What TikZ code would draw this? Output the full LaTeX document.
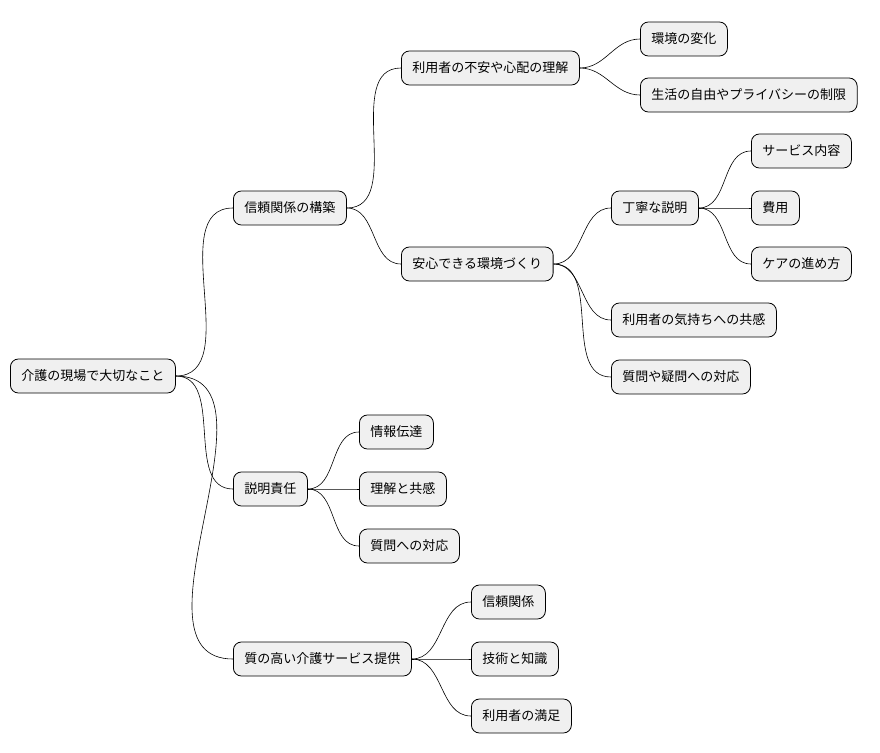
\documentclass[tikz,border=0pt]{standalone}
\usepackage{fontspec}
\setmainfont{Noto Sans CJK JP}
\begin{document}
\begin{tikzpicture}[x=1pt,y=-1pt,
  n/.style={draw=black,fill=black!6,rounded corners=8pt,minimum height=34pt,inner xsep=11pt,anchor=west,font=\fontsize{13}{15}\selectfont,line width=0.8pt},
  e/.style={draw=black,line width=0.6pt}]
\useasboundingbox (0,0) rectangle (880,752);
\node[n] (r) at (10,376) {介護の現場で大切なこと};
\node[n] (a) at (233,208) {信頼関係の構築};
\node[n] (b) at (233,489) {説明責任};
\node[n] (c) at (233,659) {質の高い介護サービス提供};
\node[n] (a1) at (401,68) {利用者の不安や心配の理解};
\node[n] (a2) at (401,264) {安心できる環境づくり};
\node[n] (a11) at (640,39) {環境の変化};
\node[n] (a12) at (640,95) {生活の自由やプライバシーの制限};
\node[n] (a21) at (611,208) {丁寧な説明};
\node[n] (a211) at (751,151) {サービス内容};
\node[n] (a212) at (751,208) {費用};
\node[n] (a213) at (751,264) {ケアの進め方};
\node[n] (a22) at (611,320) {利用者の気持ちへの共感};
\node[n] (a23) at (611,377) {質問や疑問への対応};
\node[n] (b1) at (359,432) {情報伝達};
\node[n] (b2) at (359,489) {理解と共感};
\node[n] (b3) at (359,546) {質問への対応};
\node[n] (c1) at (471,602) {信頼関係};
\node[n] (c2) at (471,659) {技術と知識};
\node[n] (c3) at (471,716) {利用者の満足};
\foreach \p/\c in {r/a,r/b,r/c,a/a1,a/a2,a1/a11,a1/a12,a2/a21,a2/a22,a2/a23,a21/a211,a21/a212,a21/a213,b/b1,b/b2,b/b3,c/c1,c/c2,c/c3}
  \draw[e] (\p.east) to[out=0,in=180] (\c.west);
\end{tikzpicture}
\end{document}
